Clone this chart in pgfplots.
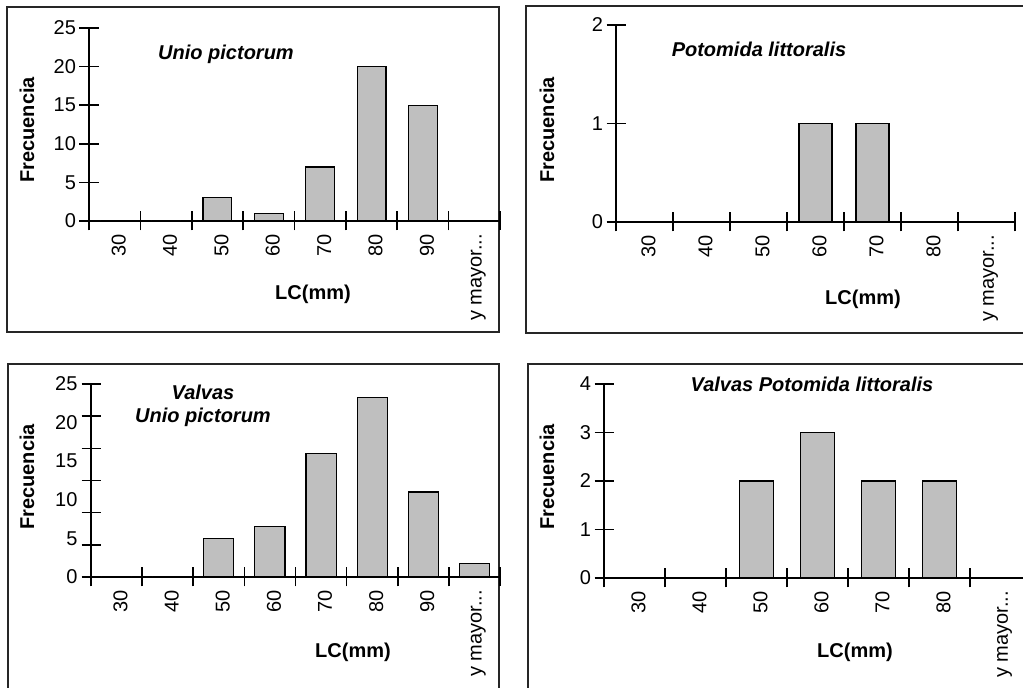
\documentclass[border=0pt]{standalone}
\usepackage{fontspec}
\setmainfont{Liberation Sans}
\usepackage{pgfplots}
\pgfplotsset{compat=1.18}

\newcommand{\fs}{\fontsize{20}{24}\selectfont}
\newcommand{\ym}{y mayor.{}.{}.}

\pgfplotsset{
  hist/.style={
    scale only axis, anchor=south west,
    axis lines*=left,
    axis line style={line width=1.6pt},
    ybar, bar width=0.56,
    ymin=0, xmin=-0.5,
    x tick label as interval,
    major tick length=19pt,
    xtick align=center, ytick align=center,
    tick style={line width=1.6pt, black},
    xticklabel style={rotate=90, anchor=east, font=\fs, yshift=-4pt},
    yticklabel style={font=\fs},
    /pgf/number format/assume math mode=true,
    clip=false,
  },
  bars/.style={fill=black!25, draw=black, line width=1.2pt},
}

\begin{document}
\begin{tikzpicture}[x=1pt, y=1pt, font=\fs]
\useasboundingbox (0,0) rectangle (1023,688);
\clip (0,0) rectangle (1023,688);

% frames
\draw[line width=1.5pt, black!85] (7,356) rectangle (499,681);
\draw[line width=1.5pt, black!85] (526,355) rectangle (1040,682);
\draw[line width=1.5pt, black!85] (8,-10) rectangle (499,324);
\draw[line width=1.5pt, black!85] (528,-10) rectangle (1040,324);

% Unio pictorum
\begin{axis}[hist, at={(89pt,467pt)}, width=411pt, height=193pt,
    xmax=7.5, ymax=25, ytick={0,5,...,25},
    xtick={-0.5,0.5,1.5,2.5,3.5,4.5,5.5,6.5,7.5},
    xticklabels={30,40,50,60,70,80,90,{\ym}}]
  \addplot[bars] coordinates {(0,0) (1,0) (2,3) (3,1) (4,7) (5,20) (6,15) (7,0)};
\end{axis}
\node[font=\fs\bfseries\itshape] at (226,634) {Unio pictorum};
\node[font=\fs\bfseries, rotate=90] at (27,558) {Frecuencia};
\node[font=\fs\bfseries] at (313,394) {LC(mm)};

% Potomida littoralis
\begin{axis}[hist, at={(616pt,466pt)}, width=399pt, height=197pt,
    xmax=6.5, ymax=2, ytick={0,1,2}, bar width=0.58,
    xtick={-0.5,0.5,1.5,2.5,3.5,4.5,5.5,6.5},
    xticklabels={30,40,50,60,70,80,{\ym}}]
  \addplot[bars] coordinates {(0,0) (1,0) (2,0) (3,1) (4,1) (5,0) (6,0)};
\end{axis}
\node[font=\fs\bfseries\itshape] at (759,639) {Potomida littoralis};
\node[font=\fs\bfseries, rotate=90] at (547,558) {Frecuencia};
\node[font=\fs\bfseries] at (863,389) {LC(mm)};

% Valvas Unio pictorum
\begin{axis}[hist, at={(91pt,111pt)}, width=409pt, height=193pt,
    xmax=7.5, ymax=25, bar width=0.59,
    ytick={0,4.1667,8.3333,12.5,16.6667,20.8333,25},
    yticklabels={},
    extra y ticks={0,5,10,15,20,25},
    extra y tick style={major tick length=0pt, yticklabel style={xshift=-10pt}},
    xtick={-0.5,0.5,1.5,2.5,3.5,4.5,5.5,6.5,7.5},
    xticklabels={30,40,50,60,70,80,90,{\ym}}]
  \addplot[bars] coordinates {(0,0) (1,0) (2,5) (3,6.5) (4,16) (5,23.3) (6,11) (7,1.7)};
\end{axis}
\node[font=\fs\bfseries\itshape] at (203,296) {Valvas};
\node[font=\fs\bfseries\itshape] at (203,271) {Unio pictorum};
\node[font=\fs\bfseries, rotate=90] at (27,211) {Frecuencia};
\node[font=\fs\bfseries] at (353,36) {LC(mm)};

% Valvas Potomida littoralis
\begin{axis}[hist, at={(604pt,110pt)}, width=427pt, height=194pt,
    xmax=6.5, ymax=4, ytick={0,1,2,3,4}, bar width=0.57,
    xtick={-0.5,0.5,1.5,2.5,3.5,4.5,5.5,6.5},
    xticklabels={30,40,50,60,70,80,{\ym}}]
  \addplot[bars] coordinates {(0,0) (1,0) (2,2) (3,3) (4,2) (5,2) (6,0)};
\end{axis}
\node[font=\fs\bfseries\itshape] at (812,304) {Valvas Potomida littoralis};
\node[font=\fs\bfseries, rotate=90] at (547,211) {Frecuencia};
\node[font=\fs\bfseries] at (855,36) {LC(mm)};
\end{tikzpicture}
\end{document}
